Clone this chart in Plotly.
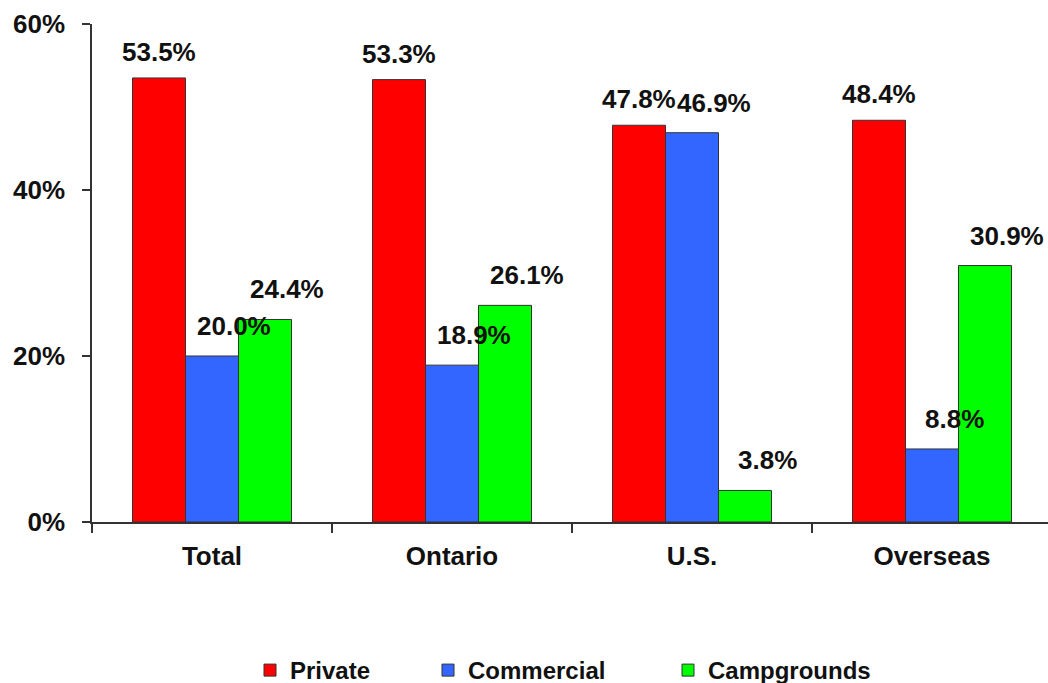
import plotly.graph_objects as go

# Accommodation shares by visitor origin
categories = ["Total", "Ontario", "U.S.", "Overseas"]
private = [53.5, 53.3, 47.8, 48.4]
commercial = [20.0, 18.9, 46.9, 8.8]
campgrounds = [24.4, 26.1, 3.8, 30.9]

series = [
    ("Private", private, "#FF0000"),
    ("Commercial", commercial, "#3366FF"),
    ("Campgrounds", campgrounds, "#00FF00"),
]

FONT = "Arial, Liberation Sans, sans-serif"
W, H = 1048, 683
ML, MR, MT, MB = 92, 0, 24, 161
PW, PH = W - ML - MR, H - MT - MB
CAT_PX = 240.0
BARGAP = 0.3375
bar_w = (1 - BARGAP) / 3

fig = go.Figure()
legend_names = ["legend", "legend2", "legend3"]
for (name, vals, color), lg in zip(series, legend_names):
    fig.add_trace(go.Bar(
        name=name, x=categories, y=vals,
        marker=dict(color=color, line=dict(color="#333333", width=1)),
        legend=lg,
    ))

# value labels above each bar
annotations = []
for k, (name, vals, color) in enumerate(series):
    offset = (k - 1) * bar_w
    xs = 0 if k == 0 else 22
    ys = 26 if k == 0 else 30
    for i, v in enumerate(vals):
        annotations.append(dict(
            x=i + offset, y=v, xref="x", yref="y",
            text=f"{v:.1f}%", showarrow=False,
            xshift=xs, yshift=ys, yanchor="middle", xanchor="center",
            font=dict(family=FONT, size=26, color="#111111", weight="bold"),
        ))

# one legend per series, placed along the bottom edge
legend_common = dict(
    orientation="h", yanchor="middle", xanchor="left",
    xref="container", yref="container",
    font=dict(family=FONT, size=24, color="#111111", weight="bold"),
    bgcolor="rgba(0,0,0,0)", itemwidth=30,
)
legend_x = [250, 428, 668]
layouts = {}
for lg, lx in zip(legend_names, legend_x):
    layouts[lg] = dict(legend_common, x=lx / W, y=1 - 670.5 / H)

fig.update_layout(
    width=W, height=H,
    margin=dict(l=ML, r=MR, t=MT, b=MB, pad=0, autoexpand=False),
    paper_bgcolor="white", plot_bgcolor="white",
    barmode="group", bargap=BARGAP, bargroupgap=0,
    showlegend=True,
    annotations=annotations,
    xaxis=dict(
        type="category",
        range=[-0.5, -0.5 + PW / CAT_PX],
        showline=True, linecolor="#333333", linewidth=1.5,
        ticks="outside", tickson="boundaries", ticklen=9, tickcolor="#333333",
        tickwidth=1.5, ticklabelstandoff=10,
        tickfont=dict(family=FONT, size=26, color="#111111", weight="bold"),
        showgrid=False, zeroline=False,
    ),
    yaxis=dict(
        range=[0, 60], dtick=20, ticksuffix="%",
        showline=True, linecolor="#333333", linewidth=1.5,
        ticks="outside", ticklen=8, tickcolor="#333333", tickwidth=1.5,
        ticklabelstandoff=12,
        tickfont=dict(family=FONT, size=26, color="#111111", weight="bold"),
        showgrid=False, zeroline=False,
    ),
    **layouts,
)

fig.write_html("out.html")
